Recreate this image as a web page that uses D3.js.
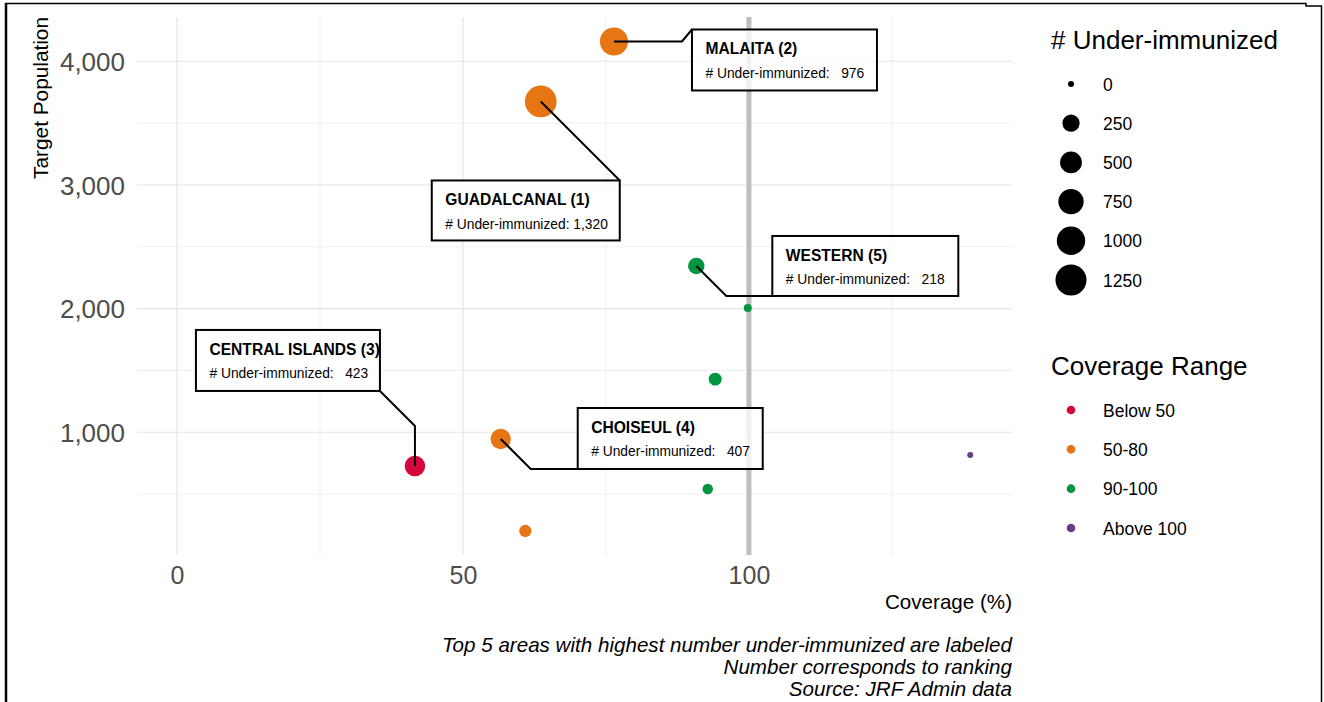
<!DOCTYPE html>
<html>
<head>
<meta charset="utf-8">
<script src="https://cdn.jsdelivr.net/npm/d3@7"></script>
<style>
  html, body { margin: 0; padding: 0; background: #fff; }
  svg { display: block; font-family: "Liberation Sans", Arial, sans-serif; }
  text { white-space: pre; }
</style>
</head>
<body>
<svg id="chart" width="1324" height="702"></svg>
<script>
// ---------------- DATA ----------------
const coverage       = [76.4, 63.6, 90.8, 99.8, 94.1, 41.6, 56.6, 92.8, 60.9, 138.7];
const population     = [4160, 3675, 2345, 2005, 1430, 728, 946, 542, 202, 817];
const underImmunized = [976, 1320, 218, 8, 95, 423, 407, 40, 79, 0];
const coverageRange  = ["50-80","50-80","90-100","90-100","90-100","Below 50","50-80","90-100","50-80","Above 100"];
const areaNames      = ["MALAITA","GUADALCANAL","WESTERN",null,null,"CENTRAL ISLANDS","CHOISEUL",null,null,null];
const ranks          = [2, 1, 5, null, null, 3, 4, null, null, null];

const rangeCategories = ["Below 50", "50-80", "90-100", "Above 100"];
const rangeColors     = ["#D6083B", "#E67514", "#00963F", "#6B3A87"];
const sizeLegendValues = [0, 250, 500, 750, 1000, 1250];

const xTicks = [0, 50, 100];
const xMinor = [25, 75, 125];
const yTicks = [1000, 2000, 3000, 4000];
const yMinor = [500, 1500, 2500, 3500];
const refLine = 100;

const captionLines = [
  "Top 5 areas with highest number under-immunized are labeled",
  "Number corresponds to ranking",
  "Source: JRF Admin data"
];

// label layout (pixel offsets from point, box size, leader elbow points) keyed by rank
const labelLayout = {
  2: {dx: 78,   dy: -12,  w: 185, h: 61, leader: [[68, 0], [78, -12]]},
  1: {dx: -109, dy: 79,   w: 188, h: 60, leader: [[79, 79]]},
  5: {dx: 76,   dy: -30,  w: 186, h: 60, leader: [[30, 30], [76, 30]]},
  3: {dx: -219, dy: -136, w: 184, h: 61, leader: [[0, -40], [-35, -75]]},
  4: {dx: 77,   dy: -31,  w: 185, h: 61, leader: [[30, 30], [77, 30]]}
};

const points = coverage.map((c, i) => ({
  cov: c, pop: population[i], ui: underImmunized[i],
  range: coverageRange[i], name: areaNames[i], rank: ranks[i]
}));

// ---------------- SCALES ----------------
const panel = {left: 137, right: 1012, top: 17, bottom: 555};
const x = d3.scaleLinear().domain([-7, 146]).range([panel.left, panel.right]);
const y = d3.scaleLinear().domain([8, 4358]).range([panel.bottom, panel.top]);
const r = d3.scaleSqrt().domain([0, 1320]).range([3, 15.85]);
const color = d3.scaleOrdinal().domain(rangeCategories).range(rangeColors);

const svg = d3.select("#chart");

// outer frame
svg.append("path")
  .attr("d", "M5,3.5H1306V6H1321.5V702")
  .attr("fill", "none").attr("stroke", "#000").attr("stroke-width", 1.5);
svg.append("line").attr("x1", 6).attr("x2", 6).attr("y1", 3).attr("y2", 702)
  .attr("stroke", "#000").attr("stroke-width", 2.5);

// grid
const grid = svg.append("g");
grid.selectAll(".xmin").data(xMinor).join("line")
  .attr("x1", d => x(d)).attr("x2", d => x(d)).attr("y1", panel.top).attr("y2", panel.bottom)
  .attr("stroke", "#EBEBEB").attr("stroke-width", 0.8);
grid.selectAll(".ymin").data(yMinor).join("line")
  .attr("y1", d => y(d)).attr("y2", d => y(d)).attr("x1", panel.left).attr("x2", panel.right)
  .attr("stroke", "#EBEBEB").attr("stroke-width", 0.8);
grid.selectAll(".xmaj").data(xTicks).join("line")
  .attr("x1", d => x(d)).attr("x2", d => x(d)).attr("y1", panel.top).attr("y2", panel.bottom)
  .attr("stroke", "#E3E3E3").attr("stroke-width", 1.1);
grid.selectAll(".ymaj").data(yTicks).join("line")
  .attr("y1", d => y(d)).attr("y2", d => y(d)).attr("x1", panel.left).attr("x2", panel.right)
  .attr("stroke", "#E3E3E3").attr("stroke-width", 1.1);

// axes (text only, via d3 axes)
const xAxis = svg.append("g").attr("transform", `translate(0,${panel.bottom})`)
  .call(d3.axisBottom(x).tickValues(xTicks).tickSize(0).tickPadding(29).tickFormat(d3.format("d")));
xAxis.select(".domain").remove();
xAxis.selectAll("text").attr("font-size", 25).attr("fill", "#4D4D4D")
  .attr("font-family", "Liberation Sans, Arial, sans-serif").attr("dy", 0);

const yAxis = svg.append("g").attr("transform", `translate(${panel.left},0)`)
  .call(d3.axisLeft(y).tickValues(yTicks).tickSize(0).tickPadding(12).tickFormat(d3.format(",")));
yAxis.select(".domain").remove();
yAxis.selectAll("text").attr("font-size", 26).attr("fill", "#4D4D4D")
  .attr("font-family", "Liberation Sans, Arial, sans-serif").attr("dy", "0.35em");

// axis titles
svg.append("text").attr("x", panel.right).attr("y", 609).attr("text-anchor", "end")
  .attr("font-size", 20.6).attr("fill", "#000").text("Coverage (%)");
svg.append("text").attr("transform", `translate(48,${panel.top}) rotate(-90)`)
  .attr("text-anchor", "end").attr("font-size", 20.8).attr("fill", "#000").text("Target Population");

// reference line
svg.append("line").attr("x1", x(refLine)).attr("x2", x(refLine))
  .attr("y1", panel.top).attr("y2", panel.bottom)
  .attr("stroke", "#BEBEBE").attr("stroke-width", 5);

// points
svg.append("g").selectAll("circle").data(points).join("circle")
  .attr("cx", d => x(d.cov)).attr("cy", d => y(d.pop)).attr("r", d => r(d.ui))
  .attr("fill", d => color(d.range));

// labels
const fmt = d3.format(",");
const labeled = points.filter(d => d.rank != null);
const lg = svg.append("g");
labeled.forEach(d => {
  const L = labelLayout[d.rank];
  const px = x(d.cov), py = y(d.pop);
  const pts = [[px, py]].concat(L.leader.map(p => [px + p[0], py + p[1]]));
  lg.append("path").attr("d", d3.line()(pts))
    .attr("fill", "none").attr("stroke", "#000").attr("stroke-width", 2);
  const bx = px + L.dx, by = py + L.dy;
  lg.append("rect").attr("x", bx).attr("y", by).attr("width", L.w).attr("height", L.h)
    .attr("fill", "#fff").attr("fill-opacity", 0.78)
    .attr("stroke", "#000").attr("stroke-width", 2);
  lg.append("text").attr("x", bx + 13.5).attr("y", by + 25)
    .attr("font-size", 15.6).attr("font-weight", "bold").attr("fill", "#000")
    .text(`${d.name} (${d.rank})`);
  lg.append("text").attr("x", bx + 13.5).attr("y", by + 48.5)
    .attr("font-size", 13.8).attr("fill", "#000")
    .text("# Under-immunized: " + fmt(d.ui).padStart(5, " "));
});

// caption
svg.append("g").selectAll("text").data(captionLines).join("text")
  .attr("x", panel.right).attr("y", (d, i) => 652 + i * 22)
  .attr("text-anchor", "end").attr("font-size", 20.6).attr("font-style", "italic")
  .attr("fill", "#000").text(d => d);

// size legend
const leg = svg.append("g");
leg.append("text").attr("x", 1051).attr("y", 49).attr("font-size", 26).attr("fill", "#000")
  .text("# Under-immunized");
const sizeY = d3.scalePoint().domain(sizeLegendValues).range([84, 280]);
sizeLegendValues.forEach(v => {
  leg.append("circle").attr("cx", 1071).attr("cy", sizeY(v)).attr("r", r(v)).attr("fill", "#000");
  leg.append("text").attr("x", 1103).attr("y", sizeY(v) + 6.5).attr("font-size", 17.5)
    .attr("fill", "#000").text(v);
});

// colour legend
leg.append("text").attr("x", 1051).attr("y", 375).attr("font-size", 26).attr("fill", "#000")
  .text("Coverage Range");
const colY = d3.scalePoint().domain(rangeCategories).range([410, 528]);
rangeCategories.forEach(c => {
  leg.append("circle").attr("cx", 1071).attr("cy", colY(c)).attr("r", 4.3).attr("fill", color(c));
  leg.append("text").attr("x", 1103).attr("y", colY(c) + 6.5).attr("font-size", 17.5)
    .attr("fill", "#000").text(c);
});
</script>
</body>
</html>
